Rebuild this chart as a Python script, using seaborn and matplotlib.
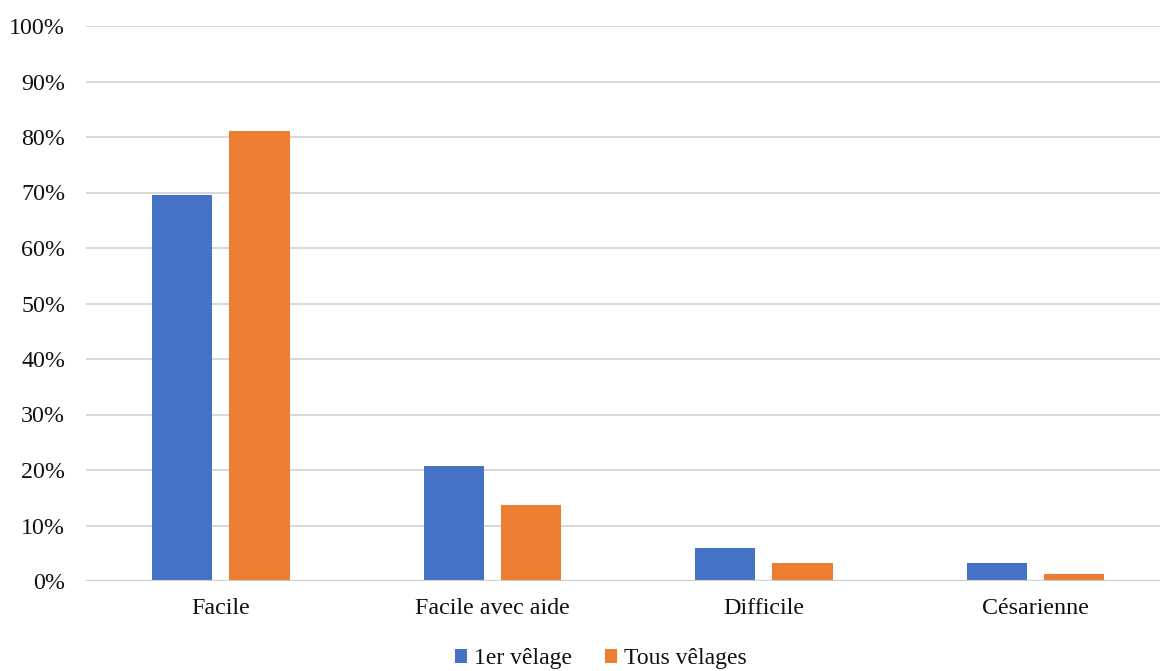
import matplotlib
matplotlib.use("Agg")
import matplotlib.pyplot as plt
from matplotlib.ticker import FuncFormatter, MultipleLocator
import seaborn as sns
import pandas as pd

categories = ["Facile", "Facile avec aide", "Difficile", "Césarienne"]
series_names = ["1er vêlage", "Tous vêlages"]
premier_velage = [69.6, 20.7, 5.9, 3.2]
tous_velages = [81.0, 13.7, 3.2, 1.3]
colors = ["#4472C4", "#ED7D31"]

df = pd.DataFrame({
    "type": categories * 2,
    "serie": [series_names[0]] * len(categories) + [series_names[1]] * len(categories),
    "pct": premier_velage + tous_velages,
})

sns.set_theme(style="white")
plt.rcParams["font.family"] = ["Liberation Serif", "DejaVu Serif"]

fig = plt.figure(figsize=(11.6, 6.71), dpi=100)
ax = fig.add_axes([86 / 1160, 90 / 671, 1 - 86 / 1160, (645 - 90) / 671])

sns.barplot(data=df, x="type", y="pct", hue="serie", order=categories,
            hue_order=series_names, palette=colors, width=0.57, gap=0.22,
            linewidth=0, saturation=1, ax=ax, zorder=3)

ax.set_ylim(0, 100)
ax.set_xlim(-0.497, 3.459)
ax.yaxis.set_major_locator(MultipleLocator(10))
ax.yaxis.set_major_formatter(FuncFormatter(lambda v, _: f"{v:.0f}%"))
ax.grid(axis="y", color="#d6d6d6", linewidth=1.3, zorder=0)
ax.set_axisbelow(True)
for s in ax.spines.values():
    s.set_visible(False)
ax.axhline(0, color="#d0d0d0", linewidth=1.5, zorder=4)

ax.set_xlabel("")
ax.set_ylabel("")
ax.tick_params(axis="y", length=0, pad=15, labelsize=17.3, labelcolor="#111111")
ax.tick_params(axis="x", length=0, pad=12, labelsize=17.3, labelcolor="#111111")

ax.legend_.remove()
handles, labels = ax.get_legend_handles_labels()
fig.legend(handles, labels, loc="center", bbox_to_anchor=(0.518, 0.018),
           ncol=2, frameon=False, fontsize=17, handlelength=0.5,
           handleheight=0.5, handletextpad=0.3, columnspacing=1.4,
           labelcolor="#111111")

fig.savefig("out.png", dpi=100)
